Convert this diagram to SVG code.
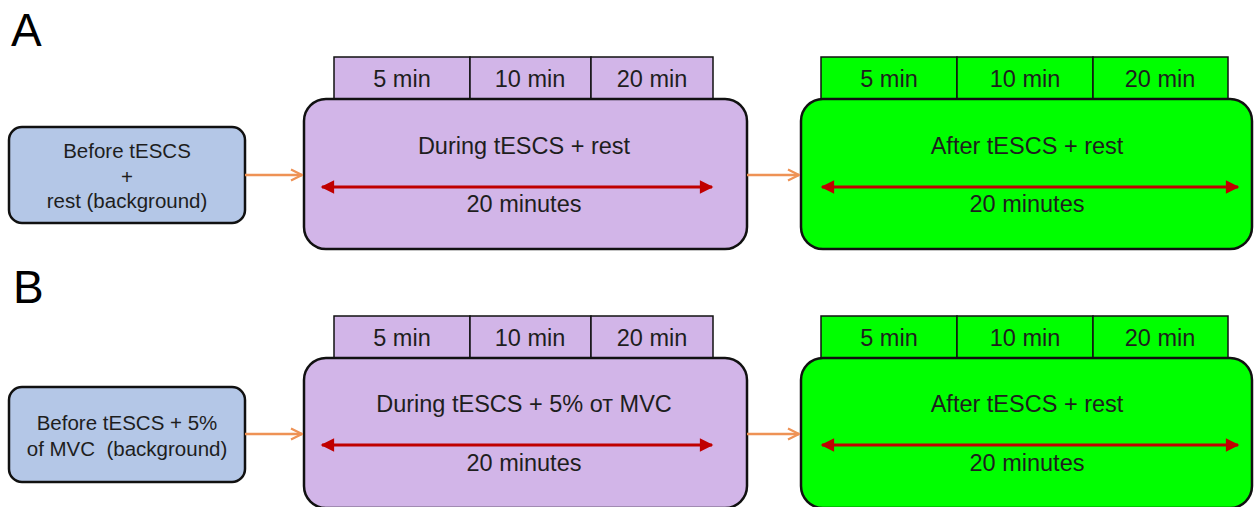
<svg xmlns="http://www.w3.org/2000/svg" width="1256" height="507" viewBox="0 0 1256 507">
<style>
text{font-family:"Liberation Sans",Arial,sans-serif;fill:#1e1e1e;text-anchor:middle}
.lbl{font-size:46px;text-anchor:start;fill:#000}
.sm{font-size:20.5px}
.md{font-size:23.5px}
.box{stroke:#111;stroke-width:2.5}
.tab{stroke:#111;stroke-width:1.5}
.blue{fill:#B4C7E7}
.purple{fill:#D2B5E8}
.green{fill:#00FF00}
.conn{stroke:#EE9255;stroke-width:2.5;fill:none;marker-end:url(#oa)}
.dur{stroke:#C00000;stroke-width:3;fill:none;marker-end:url(#ra);marker-start:url(#ra)}
</style>
<defs>
<marker id="oa" viewBox="0 0 10 10" refX="9" refY="5" markerWidth="5.5" markerHeight="5.5" orient="auto" markerUnits="strokeWidth">
<path d="M1,1 L9,5 L1,9" fill="none" stroke="#EE9255" stroke-width="1.6"/>
</marker>
<marker id="ra" viewBox="0 0 10 10" refX="9" refY="5" markerWidth="5" markerHeight="4.5" orient="auto-start-reverse" markerUnits="strokeWidth">
<path d="M0,0 L10,5 L0,10 z" fill="#C00000"/>
</marker>
</defs>
<rect width="1256" height="507" fill="#fff"/>

<g id="panelA">
<text class="lbl" x="11" y="46">A</text>
<g id="A-before">
<rect class="box blue" x="9" y="127" width="236" height="96" rx="13"/>
<text class="sm" x="127" y="158">Before tESCS</text>
<text class="sm" x="127" y="184">+</text>
<text class="sm" x="127" y="208">rest (background)</text>
</g>
<g id="A-during">
<rect class="tab purple" x="334" y="57" width="136" height="42"/>
<rect class="tab purple" x="470" y="57" width="121" height="42"/>
<rect class="tab purple" x="591" y="57" width="122" height="42"/>
<text class="md" x="402" y="87">5 min</text>
<text class="md" x="530" y="87">10 min</text>
<text class="md" x="652" y="87">20 min</text>
<rect class="box purple" x="304" y="99" width="443" height="150" rx="22"/>
<text class="md" x="524" y="154">During tESCS + rest</text>
<line class="dur" x1="322" y1="187" x2="712" y2="187"/>
<text class="md" x="524" y="212">20 minutes</text>
</g>
<g id="A-after">
<rect class="tab green" x="821" y="57" width="136" height="42"/>
<rect class="tab green" x="957" y="57" width="136" height="42"/>
<rect class="tab green" x="1093" y="57" width="135" height="42"/>
<text class="md" x="889" y="87">5 min</text>
<text class="md" x="1025" y="87">10 min</text>
<text class="md" x="1160" y="87">20 min</text>
<rect class="box green" x="801" y="99" width="451" height="150" rx="22"/>
<text class="md" x="1027" y="154">After tESCS + rest</text>
<line class="dur" x1="822" y1="187" x2="1238" y2="187"/>
<text class="md" x="1027" y="212">20 minutes</text>
</g>
<g id="A-connectors">
<line class="conn" x1="245" y1="175" x2="302" y2="175"/>
<line class="conn" x1="747" y1="175" x2="799" y2="175"/>
</g>
</g>

<g id="panelB" transform="translate(0,259)">
<text class="lbl" x="13" y="44">B</text>
<g id="B-before">
<rect class="box blue" x="9" y="128" width="236" height="95" rx="13"/>
<text class="sm" x="127" y="171">Before tESCS + 5%</text>
<text class="sm" x="127" y="197" xml:space="preserve">of MVC  (background)</text>
</g>
<g id="B-during">
<rect class="tab purple" x="334" y="57" width="136" height="42"/>
<rect class="tab purple" x="470" y="57" width="121" height="42"/>
<rect class="tab purple" x="591" y="57" width="122" height="42"/>
<text class="md" x="402" y="87">5 min</text>
<text class="md" x="530" y="87">10 min</text>
<text class="md" x="652" y="87">20 min</text>
<rect class="box purple" x="304" y="99" width="443" height="150" rx="22"/>
<text class="md" x="524" y="153">During tESCS + 5% от MVC</text>
<line class="dur" x1="322" y1="186" x2="712" y2="186"/>
<text class="md" x="524" y="212">20 minutes</text>
</g>
<g id="B-after">
<rect class="tab green" x="821" y="57" width="136" height="42"/>
<rect class="tab green" x="957" y="57" width="136" height="42"/>
<rect class="tab green" x="1093" y="57" width="135" height="42"/>
<text class="md" x="889" y="87">5 min</text>
<text class="md" x="1025" y="87">10 min</text>
<text class="md" x="1160" y="87">20 min</text>
<rect class="box green" x="801" y="99" width="451" height="150" rx="22"/>
<text class="md" x="1027" y="153">After tESCS + rest</text>
<line class="dur" x1="822" y1="186" x2="1238" y2="186"/>
<text class="md" x="1027" y="212">20 minutes</text>
</g>
<g id="B-connectors">
<line class="conn" x1="245" y1="175" x2="302" y2="175"/>
<line class="conn" x1="747" y1="175" x2="799" y2="175"/>
</g>
</g>
</svg>
